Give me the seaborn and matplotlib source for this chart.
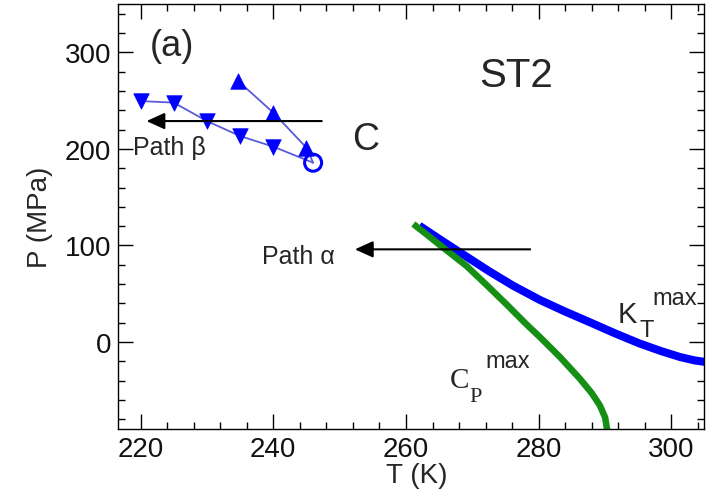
import matplotlib
matplotlib.use("Agg")
import matplotlib.pyplot as plt
from matplotlib.ticker import MultipleLocator
import seaborn as sns

# Line of compressibility maxima, K_T^max
kt_T = [262.0, 265.5, 269.1, 272.6, 276.1, 280.2, 284.0, 287.7, 291.5, 295.2, 298.5, 301.3, 303.5, 305.5]
kt_P = [120.5, 104.5, 88.5, 73.0, 58.5, 43.5, 31.5, 20.5, 9.0, -1.5, -9.5, -15.5, -19.0, -21.0]

# Line of specific-heat maxima, C_P^max
cp_T = [261.1, 263.0, 265.0, 267.0, 269.1, 272.0, 275.0, 278.2, 280.2, 283.2, 286.2, 288.0, 289.2, 290.0, 290.4]
cp_P = [122.2, 112.0, 101.0, 90.2, 78.9, 60.0, 40.0, 18.0, 5.0, -15.5, -38.0, -53.0, -65.5, -78.0, -95.0]

# Spinodal branches ending at the liquid-liquid critical point C
up_T = [234.7, 240.0, 245.0]
up_P = [270.3, 237.5, 201.2]
down_T = [220.0, 225.0, 230.0, 235.0, 240.0]
down_P = [249.5, 247.9, 228.8, 213.3, 202.3]
crit_T = [246.0]
crit_P = [185.7]

# Isobaric cooling paths (tail T, tip T, P)
path_beta = (247.3, 220.9, 228.8)
path_alpha = (278.7, 252.3, 96.0)

x_ticks = [220, 240, 260, 280, 300]
y_ticks = [0, 100, 200, 300]

sns.set_style("ticks")
plt.rcParams["font.family"] = ["Liberation Sans", "DejaVu Sans"]

fig = plt.figure(figsize=(7.09, 5.02), dpi=100)
ax = fig.add_axes([118 / 709, 1 - 430 / 502, (704 - 118) / 709, (430 - 5) / 502])

blue = "#0000ff"
line_blue = "#5a5ad8"
green = "#159015"

thick = dict(sort=False, estimator=None, solid_joinstyle="round", solid_capstyle="butt", ax=ax)
sns.lineplot(x=kt_T, y=kt_P, color=blue, lw=5.8, **thick)
sns.lineplot(x=cp_T, y=cp_P, color=green, lw=4.7, **thick)

sns.lineplot(x=up_T + crit_T, y=up_P + crit_P, sort=False, estimator=None,
             color=line_blue, lw=1.3, ax=ax)
sns.lineplot(x=down_T + crit_T, y=down_P + crit_P, sort=False, estimator=None,
             color=line_blue, lw=1.3, ax=ax)
sns.scatterplot(x=up_T, y=up_P, marker="^", s=125, color=blue, edgecolor=blue,
                linewidth=0.5, ax=ax, zorder=4)
sns.scatterplot(x=down_T, y=down_P, marker="v", s=125, color=blue, edgecolor=blue,
                linewidth=0.5, ax=ax, zorder=4)
sns.scatterplot(x=crit_T, y=crit_P, marker="o", s=150, color=blue, facecolor="none",
                edgecolor=blue, linewidth=2.2, ax=ax, zorder=5)

arrow_kw = dict(arrowstyle="-|>,head_length=1.1,head_width=0.5", mutation_scale=10,
                lw=1.5, color="black", shrinkA=0, shrinkB=0)
for tail, tip, p in (path_beta, path_alpha):
    ax.annotate("", xy=(tip, p), xytext=(tail, p), arrowprops=arrow_kw, zorder=6)

ax.text(218.8, 201.5, "Path β", fontsize=18, ha="left", va="center")
ax.text(238.3, 89.6, "Path α", fontsize=18, ha="left", va="center")
ax.text(253.9, 209.8, "C", fontsize=27, ha="center", va="center")
ax.text(276.6, 276.0, "ST2", fontsize=29, ha="center", va="center")
ax.text(224.7, 307.0, "(a)", fontsize=26, ha="center", va="center")

# K_T^max label
ax.text(291.9, 20.7, "K", fontsize=21, ha="left", va="baseline")
ax.text(295.2, 6.2, "T", fontsize=17, ha="left", va="baseline")
ax.text(297.2, 39.3, "max", fontsize=17, ha="left", va="baseline")
# C_P^max label
serif = ["Liberation Serif", "DejaVu Serif"]
ax.text(266.6, -46.5, "C", fontsize=21, ha="left", va="baseline", family=serif)
ax.text(269.6, -61.0, "P", fontsize=16, ha="left", va="baseline", family=serif)
ax.text(271.9, -25.9, "max", fontsize=17, ha="left", va="baseline")

ax.set_xlim(216.6, 304.9)
ax.set_ylim(-90, 350)
ax.set_xticks(x_ticks)
ax.set_yticks(y_ticks)
ax.xaxis.set_minor_locator(MultipleLocator(4))
ax.yaxis.set_minor_locator(MultipleLocator(20))
ax.tick_params(which="both", direction="in", top=True, right=True, width=1.0,
               color="black", labelsize=20, labelcolor="#111111")
ax.tick_params(which="major", length=10.5, pad=5)
ax.tick_params(which="minor", length=5)
for s in ax.spines.values():
    s.set_linewidth(1.0)
    s.set_color("black")

ax.set_xlabel("T (K)", fontsize=20)
ax.set_ylabel("P (MPa)", fontsize=20, labelpad=8)
ax.xaxis.set_label_coords(0.51, -0.078)

fig.savefig("out.png", dpi=100, facecolor="white")
